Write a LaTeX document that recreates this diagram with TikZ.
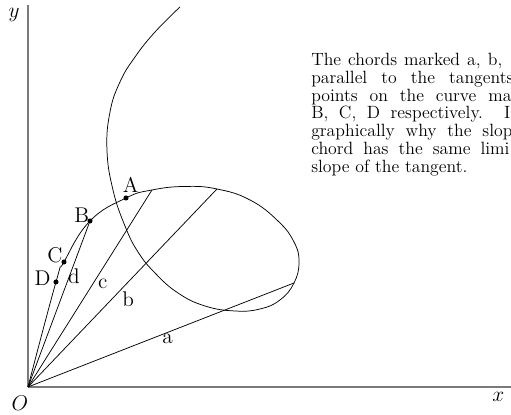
\documentclass[tikz,border=0pt]{standalone}
\usepackage{amsmath}
\usepackage{tikz}
\definecolor{axisgray}{HTML}{7A7A7A}

\begin{document}
\begin{tikzpicture}[
    axis/.style={draw=axisgray, line width=0.8pt},
    curve/.style={line width=0.5pt},
    dot/.style={circle, fill=black, inner sep=0pt, minimum size=1.2mm},
    lbl/.style={font=\Large, inner sep=0pt}
]
\useasboundingbox (-0.665,-0.665) rectangle (11.473,9.192);
\coordinate (O) at (0,0);
\coordinate (ytop) at (0,9.07);
\coordinate (xend) at (11.5,0);
\draw[axis] (O) -- (ytop);
\draw[axis] (O) -- (xend);
\coordinate (D) at (0.665,2.494);
\coordinate (C) at (0.855,2.969);
\coordinate (B) at (1.473,3.943);
\coordinate (A) at (2.328,4.489);
\coordinate (Pc) at (2.945,4.679);
\coordinate (Pb) at (4.489,4.703);
\coordinate (Pa) at (6.318,2.470);
\draw[curve] plot[smooth, tension=0.75] coordinates {
    (O) (D) (C) (B) (A) (Pc) (3.729,4.763) (Pb) (5.273,4.442) (5.938,3.943)
    (6.318,3.444) (6.437,2.969) (Pa) (5.986,2.067) (5.511,1.853) (4.917,1.805)
    (4.204,1.924) (3.563,2.233) (3.017,2.708) (2.613,3.207) (2.304,3.824)
    (2.019,4.679) (1.876,5.629) (1.948,6.532) (2.185,7.245) (2.542,7.838)
    (3.017,8.432) (3.610,9.026)};
\draw[curve] (O) -- (Pa);
\draw[curve] (O) -- (Pb);
\draw[curve] (O) -- (Pc);
\draw[curve] (O) -- (B);
\node[dot] (dA) at (A) {};
\node[dot] (dB) at (B) {};
\node[dot] (dC) at (C) {};
\node[dot] (dD) at (D) {};
\node[lbl] (lA) at (2.44,4.80) {A};
\node[lbl] (lB) at (1.275,4.08) {B};
\node[lbl] (lC) at (0.641,3.135) {C};
\node[lbl] (lD) at (0.349,2.582) {D};
\node[lbl] (la) at (3.318,1.133) {a};
\node[lbl] (lb) at (2.382,2.083) {b};
\node[lbl] (lc) at (1.774,2.447) {c};
\node[lbl] (ld) at (1.093,2.62) {d};
\node[lbl] (lx) at (11.17,-0.245) {$x$};
\node[lbl] (ly) at (-0.333,8.836) {$y$};
\node[lbl] (lO) at (-0.19,-0.387) {$O$};
\node[anchor=base west, inner sep=0pt, align=left, font=\fontsize{12}{12.1}\selectfont] (note) at (6.722,5.090) {
    \makebox[129.2pt][s]{The chords marked a, b,}\\
    \makebox[136.6pt][s]{parallel to the tangents}\\
    \makebox[135.3pt][s]{points on the curve ma}\\
    \makebox[134.6pt][s]{B, C, D respectively.\ \ I}\\
    \makebox[136pt][s]{graphically why the slop}\\
    \makebox[134pt][s]{chord has the same limi}\\
    slope of the tangent.};
\end{tikzpicture}
\end{document}
